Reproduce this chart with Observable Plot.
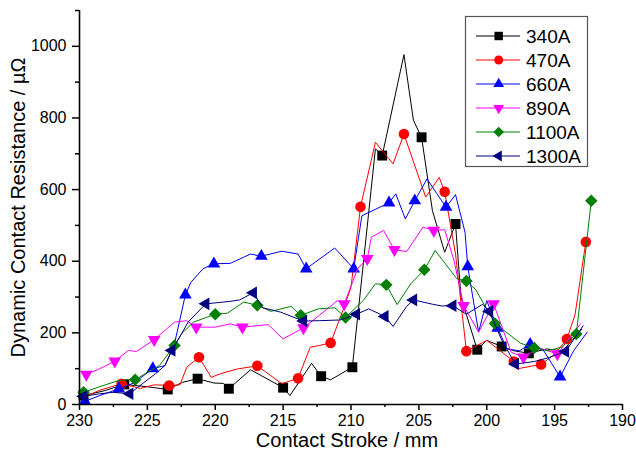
<!DOCTYPE html>
<html><head><meta charset="utf-8">
<script src="https://cdn.jsdelivr.net/npm/d3@7"></script>
<script src="https://cdn.jsdelivr.net/npm/@observablehq/plot@0.6"></script>
<style>
body{margin:0;background:#fff}
#wrap{position:relative;width:636px;height:461px}
#legend{position:absolute;left:0;top:0;pointer-events:none}
</style></head><body><div id="wrap"></div>
<script>
// ---- data (x = contact stroke / mm, y = resistance / µΩ) ----
const seriesNames = ["340A","470A","660A","890A","1100A","1300A"];
const xMajor = [230,225,220,215,210,205,200,195,190];
const xMinor = [227.5,222.5,217.5,212.5,207.5,202.5,197.5,192.5];
const yMajor = [0,200,400,600,800,1000];
const yMinor = [100,300,500,700,900,1100];

const s340 = [[229.7,25],[228.2,38],[226.7,56],[225.1,50],[223.5,42],[222.4,62],[221.3,72],[220.1,60],[219.4,59],[219.0,44],[217.4,97],[215.0,47],[214.5,25],[212.9,115],[212.2,79],[211.5,69],[209.9,104],[208.2,714],[207.7,695],[206.1,977],[205.4,793],[204.8,746],[204.0,541],[203.1,425],[202.3,504],[201.9,300],[200.7,153],[200.0,179],[198.9,162],[198.0,150],[196.9,143],[195.6,155],[194.4,150],[193.0,210]];
const m340 = [229.7,226.7,223.5,221.3,219.0,215.0,212.2,209.9,207.7,204.8,202.3,200.7,198.9,196.9];

const s470 = [[229.7,20],[228.5,40],[226.9,58],[225.5,45],[224.5,55],[223.4,53],[222.6,55],[222.1,104],[221.2,132],[220.3,76],[219.6,86],[218.4,99],[216.9,108],[215.1,58],[213.9,73],[213.0,160],[212.3,165],[211.5,172],[210.6,262],[210.0,327],[209.3,552],[208.2,732],[206.9,672],[206.1,755],[204.5,579],[203.5,634],[203.1,594],[202.3,420],[201.5,149],[200.0,179],[199.0,150],[198.0,120],[197.7,100],[196.0,112],[195.0,140],[194.1,183],[193.5,250],[192.7,454]];
const m470 = [226.9,223.4,221.2,216.9,213.9,211.5,209.3,206.1,203.1,201.5,198.0,196.0,194.1,192.7];

const s660 = [[229.6,9],[228.5,25],[227.1,44],[226.0,60],[225.3,80],[224.6,100],[223.7,109],[223.0,170],[222.2,306],[221.8,341],[220.9,379],[220.1,393],[218.9,394],[217.4,420],[216.6,414],[215.1,428],[213.9,420],[213.3,379],[211.2,437],[209.8,379],[209.2,527],[207.2,563],[206.7,588],[206.0,518],[205.3,569],[204.4,630],[203.7,590],[203.0,551],[202.3,586],[201.6,481],[201.4,385],[200.6,202],[200.0,290],[199.2,213],[198.5,155],[197.6,150],[196.8,168],[195.8,150],[194.6,77],[193.6,150],[192.6,202]];
const m660 = [229.6,227.1,224.6,222.2,220.1,216.6,213.3,209.8,207.2,205.3,203.0,201.4,199.2,196.8,194.6];

const s890 = [[229.5,84],[228.5,100],[227.4,121],[226.4,151],[225.8,148],[224.5,181],[223.0,230],[222.1,234],[221.4,216],[220.0,216],[218.9,225],[218.0,216],[216.1,223],[215.0,183],[213.5,214],[212.3,250],[211.0,290],[210.5,281],[209.5,380],[208.8,407],[208.5,467],[207.6,486],[206.8,432],[205.9,427],[204.7,495],[203.9,486],[203.1,488],[202.4,400],[201.7,276],[200.6,202],[199.5,281],[198.2,146],[197.3,132],[196.1,158],[194.8,141],[193.1,225]];
const m890 = [229.5,227.4,224.5,221.4,218.0,213.5,210.5,208.8,206.8,203.9,201.7,199.5,197.3,194.8];

const s1100 = [[229.7,34],[228.5,50],[227.1,67],[226.5,69],[225.9,69],[225.0,90],[224.1,109],[223.0,165],[222.5,197],[221.6,230],[220.0,252],[219.1,255],[217.9,286],[216.9,277],[215.9,260],[214.4,274],[213.7,249],[212.4,267],[211.2,270],[210.4,243],[209.1,290],[208.2,337],[207.4,334],[206.6,279],[205.6,337],[204.6,376],[203.8,430],[202.2,351],[201.5,345],[200.8,320],[199.4,226],[198.5,200],[197.5,171],[196.5,158],[195.5,150],[194.5,160],[193.4,197],[192.3,569]];
const m1100 = [229.7,225.9,223.0,220.0,216.9,213.7,210.4,207.4,204.6,201.5,199.4,196.5,193.4,192.3];

const s1300 = [[229.7,23],[228.5,30],[227.5,34],[226.3,30],[225.3,60],[224.4,86],[223.7,109],[223.2,151],[222.7,183],[222.0,230],[220.7,281],[218.9,288],[218.2,292],[217.2,312],[216.5,270],[215.2,258],[213.5,233],[212.3,234],[210.8,236],[209.6,252],[208.7,267],[207.5,246],[206.9,218],[205.9,274],[205.4,292],[204.0,280],[203.3,275],[202.5,276],[201.5,252],[200.3,280],[199.8,260],[198.9,180],[197.9,113],[196.5,120],[195.5,130],[194.2,148],[192.9,220]];
const m1300 = [229.7,226.3,223.2,220.7,217.2,213.5,209.6,207.5,205.4,202.5,199.8,197.9,194.2];

// ---- styles ----
const colors = ["#000000","#ff0000","#0000ff","#ff00ff","#008000","#000080"];
const symbols = ["square","circle","triangle","triangle","diamond2","triangle"];
const rotations = [0,0,0,180,0,-90];
const radii = [5.6,5.3,4.7,4.7,5.6,4.7];

const lineData = [s340,s470,s660,s890,s1100,s1300];
const markData = [m340,m470,m660,m890,m1100,m1300];

const seriesMarks = [];
lineData.forEach((s, i) => {
  seriesMarks.push(Plot.line(s, {x: d => d[0], y: d => d[1], stroke: colors[i], strokeWidth: 1}));
  seriesMarks.push(Plot.dot(s.filter(d => markData[i].includes(d[0])), {
    x: d => d[0], y: d => d[1], symbol: symbols[i], r: radii[i], fill: colors[i], stroke: "none", rotate: rotations[i]
  }));
});

const fmt = d => String(d);
const chart = Plot.plot({
  width: 636, height: 461,
  marginLeft: 79, marginRight: 14, marginTop: 10, marginBottom: 57,
  style: {fontFamily: "'Liberation Sans', Arial, sans-serif", fontSize: "16px", color: "#000", background: "#fff"},
  x: {domain: [230, 190]},
  y: {domain: [0, 1100]},
  marks: [
    Plot.axisX(xMajor, {tickSize: 6, tickPadding: 4, tickFormat: fmt, fontSize: 16, strokeWidth: 1.5, label: null}),
    Plot.axisX(xMinor, {tickSize: 3, tickFormat: () => "", strokeWidth: 1.5, label: null}),
    Plot.axisY(yMajor, {tickSize: 7, tickPadding: 6, tickFormat: fmt, fontSize: 16, strokeWidth: 1.5, label: null}),
    Plot.axisY(yMinor, {tickSize: 4, tickFormat: () => "", strokeWidth: 1.5, label: null}),
    ...seriesMarks,
    Plot.ruleY([0], {stroke: "#000", strokeWidth: 1.6}),
    Plot.ruleX([230], {stroke: "#000", strokeWidth: 1.6}),
    Plot.text(["Contact Stroke / mm"], {frameAnchor: "bottom", dx: -4, dy: 36, fontSize: 20, lineAnchor: "middle", textAnchor: "middle", fill: "#000"}),
    Plot.text(["Dynamic Contact Resistance / µΩ"], {frameAnchor: "left", dx: -61, rotate: -90, fontSize: 20, lineAnchor: "middle", textAnchor: "middle", fill: "#000"})
  ]
});
const wrap = document.getElementById("wrap");
wrap.appendChild(chart);

// ---- legend overlay ----
const svg = d3.select(wrap).append("svg").attr("id", "legend").attr("width", 636).attr("height", 461)
  .style("font-family", "'Liberation Sans', Arial, sans-serif");
svg.append("rect").attr("x", 465.5).attr("y", 16.5).attr("width", 122).attr("height", 150)
  .attr("fill", "#fff").attr("stroke", "#555").attr("stroke-width", 1.2);
const symMap = {square: d3.symbolSquare, circle: d3.symbolCircle, triangle: d3.symbolTriangle, diamond2: d3.symbolDiamond2};
seriesNames.forEach((name, i) => {
  const y = 36 + 24 * i;
  svg.append("line").attr("x1", 476).attr("x2", 520).attr("y1", y).attr("y2", y)
    .attr("stroke", colors[i]).attr("stroke-width", 1);
  const r = radii[i] * 0.85;
  svg.append("path").attr("d", d3.symbol(symMap[symbols[i]], Math.PI * r * r)())
    .attr("transform", `translate(498.7,${y}) rotate(${rotations[i]})`).attr("fill", colors[i]);
  svg.append("text").attr("x", 526).attr("y", y).attr("dy", "0.35em").attr("font-size", 19).attr("fill", "#000").text(name);
});
</script></body></html>
